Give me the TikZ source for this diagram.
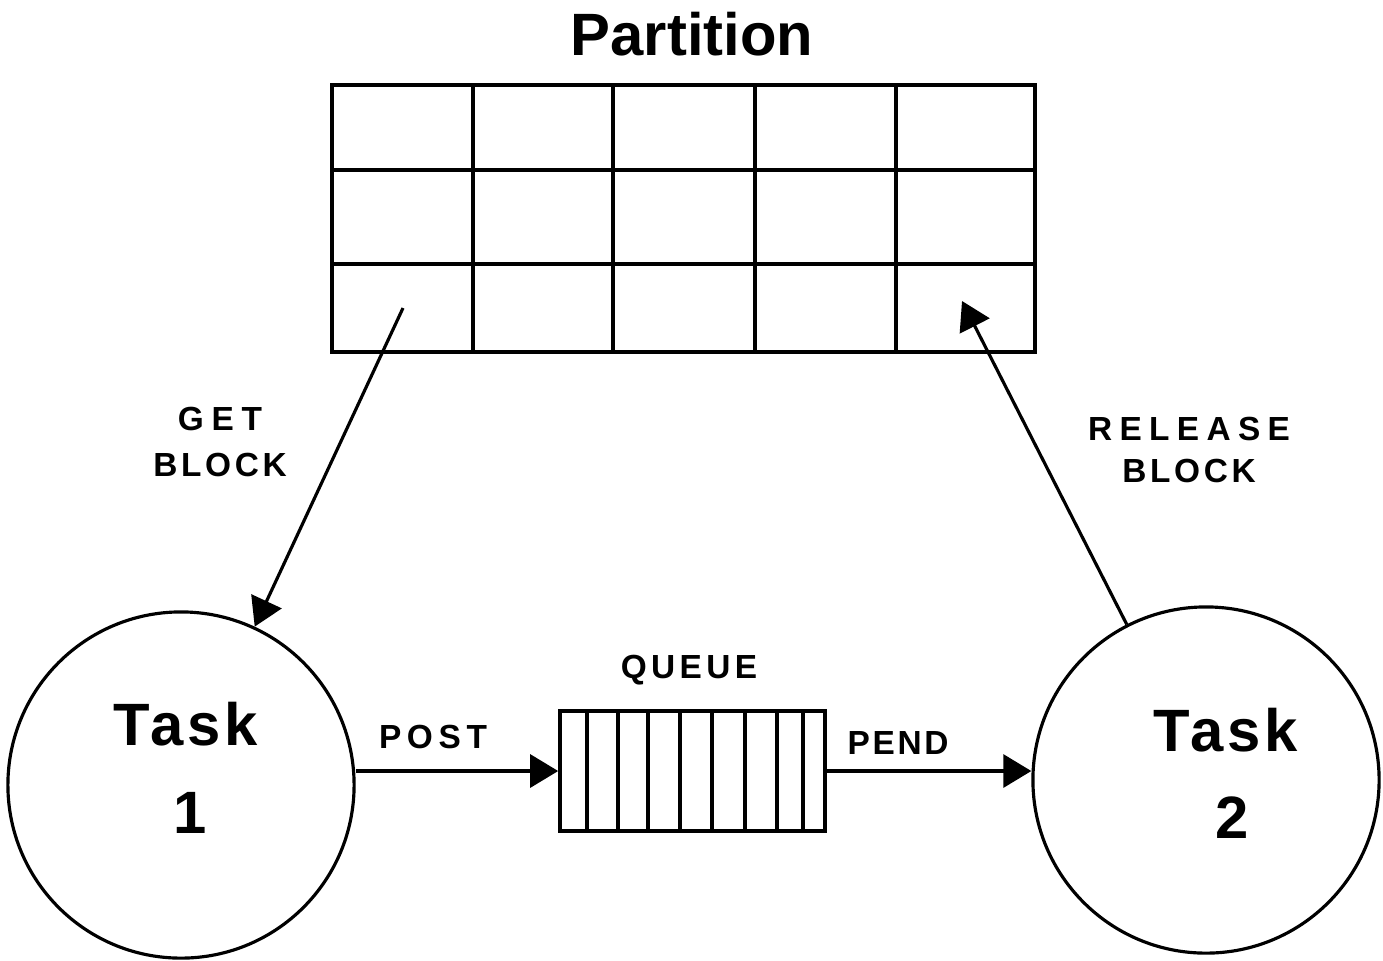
\documentclass[tikz,border=0pt]{standalone}
\usepackage{fontspec}
\setmainfont{Liberation Sans}
\usepackage{tikz}
\usetikzlibrary{arrows.meta,calc}

\tikzset{
  gridline/.style={line width=1.2pt},
  taskcircle/.style={draw, circle, line width=0.9pt, minimum size=3.46cm, inner sep=0pt},
  bigtext/.style={font=\bfseries\fontsize{17}{20}\selectfont, anchor=base, inner sep=0pt},
  tasktext/.style={bigtext, font=\bfseries\fontsize{17}{20}\selectfont\addfontfeature{LetterSpace=7}},
  smalltext/.style={font=\bfseries\fontsize{9.5}{12}\selectfont\addfontfeature{LetterSpace=#1}, inner sep=0pt},
  flow/.style={line width=0.9pt, -{Triangle[length=0.28cm,width=0.33cm]}}
}

\begin{document}
\begin{tikzpicture}[x=0.01cm, y=-0.01cm]
                    \useasboundingbox (0,0) rectangle (1383,960);
                    % Partition of memory blocks
                    \node[bigtext] (parttitle) at (692,55) {Partition};
                    \node[draw, gridline, minimum width=7.03cm, minimum height=2.67cm, inner sep=0pt] (part) at (683.5,218.5) {};
                    \foreach \gx in {473,613,755,896} \draw[gridline] (\gx,85) -- (\gx,352);
                    \foreach \gy in {170,264} \draw[gridline] (332,\gy) -- (1035,\gy);
                    \coordinate (getstart) at (403,308);
                    \coordinate (relend) at (962,301);

                    % Tasks
                    \node[taskcircle] (task1) at (181,785) {};
                    \node[tasktext] (task1word) at (186,745) {Task};
                    \node[bigtext] (task1num) at (190,833) {1};
                    \node[taskcircle] (task2) at (1206,780) {};
                    \node[tasktext] (task2word) at (1226,751) {Task};
                    \node[bigtext] (task2num) at (1232,838) {2};

                    % Queue between the tasks
                    \node[draw, line width=1pt, minimum width=2.65cm, minimum height=1.2cm, inner sep=0pt] (queue) at (692.5,771) {};
                    \foreach \qx in {587,618,648,680,712,745,777,803} \draw[line width=0.9pt] (\qx,711) -- (\qx,831);
                    \node[smalltext=13, anchor=base] (queuelbl) at (689,678) {QUEUE};

                    % Connectors
                    \draw[flow] (getstart) -- (task1);
                    \draw[flow] (task2) -- (relend);
                    \draw[flow] (queue.west -| task1.east) -- (queue.west);
                    \draw[flow] (queue.east) -- (queue.east -| task2.west);
                    \node[smalltext=11, align=center] (getlbl) at (220,442) {{\addfontfeature{LetterSpace=23}GET}\\[1.2pt]BLOCK};
                    \node[smalltext=22, align=center] (rellbl) at (1189,450) {RELEASE\\{\addfontfeature{LetterSpace=11}BLOCK}};
                    \node[smalltext=17, anchor=base] (postlbl) at (433,748) {POST};
                    \node[smalltext=8, anchor=base] (pendlbl) at (898,754) {PEND};
\end{tikzpicture}
\end{document}
